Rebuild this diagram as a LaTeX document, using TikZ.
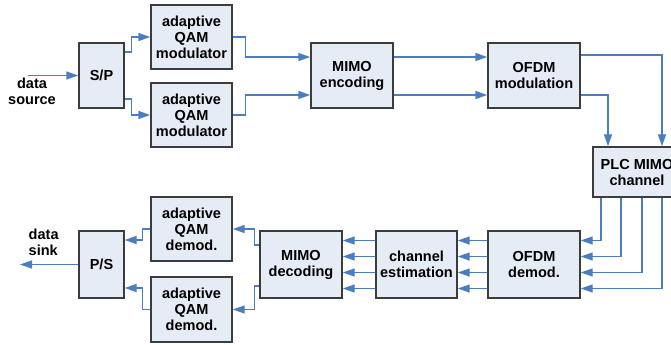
\documentclass[tikz,border=0pt]{standalone}
\usepackage{fontspec}
\setmainfont{Liberation Sans}
\usepackage{tikz}
\usetikzlibrary{arrows.meta,calc,positioning}
\definecolor{sigblue}{RGB}{74,126,193}
\definecolor{blkfill}{RGB}{230,236,246}
\definecolor{blkline}{RGB}{60,60,60}
\newdimen\unitpx \unitpx=0.75pt

\begin{document}
\begin{tikzpicture}[x=0.75pt,y=-0.75pt,>={Triangle[length=9pt,width=6pt]},
  blk/.style={draw=blkline,line width=1.1pt,fill=blkfill,align=center,inner sep=0pt,
    font=\fontsize{10.9}{12}\selectfont\bfseries},
  sig/.style={->,sigblue,line width=1.1pt},
  lbl/.style={align=center,font=\fontsize{10.9}{12}\selectfont\bfseries}]
\useasboundingbox (0,0) rectangle (671,345);
% transmitter
\node[blk,minimum width=45\unitpx,minimum height=65\unitpx] (sp) at (101.5,75.5) {S/P};
\node[blk,minimum width=81\unitpx,minimum height=64\unitpx] (modA) at (191.5,37) {adaptive\\QAM\\modulator};
\node[blk,minimum width=81\unitpx,minimum height=64\unitpx] (modB) at (191.5,115) {adaptive\\QAM\\modulator};
\node[blk,minimum width=82\unitpx,minimum height=65\unitpx] (menc) at (352,75.5) {MIMO\\encoding};
\node[blk,minimum width=92\unitpx,minimum height=65\unitpx] (ofdmm) at (534,75.5) {OFDM\\modulation};
\node[blk,minimum width=88\unitpx,minimum height=50\unitpx] (plc) at (637,172) {PLC MIMO\\channel};
% receiver
\node[blk,minimum width=92\unitpx,minimum height=67\unitpx] (ofdmd) at (534,264.5) {OFDM\\demod.};
\node[blk,minimum width=81\unitpx,minimum height=67\unitpx] (chest) at (416.5,264.5) {channel\\estimation};
\node[blk,minimum width=82\unitpx,minimum height=67\unitpx] (mdec) at (301,264.5) {MIMO\\decoding};
\node[blk,minimum width=81\unitpx,minimum height=64\unitpx] (demA) at (191.5,229) {adaptive\\QAM\\demod.};
\node[blk,minimum width=81\unitpx,minimum height=65\unitpx] (demB) at (191.5,309.5) {adaptive\\QAM\\demod.};
\node[blk,minimum width=45\unitpx,minimum height=67\unitpx] (ps) at (101.5,264.5) {P/S};
\node[lbl] (srctxt) at (32,91) {data\\source};
\node[lbl,align=left,anchor=west] (snktxt) at (24,242) {data\\sink};
\coordinate (src) at (28,75.5);
\coordinate (snk) at (20,264.5);

\draw[sig] (src) -- (sp.west);
\draw[sig] ($(sp.east)+(0,-23.5)$) -- ++(7,0) |- (modA.west);
\draw[sig] ($(sp.east)+(0,23.5)$) -- ++(7,0) |- (modB.west);
\draw[sig] (modA.east) -- ++(13,0) |- ($(menc.west)+(0,-18.5)$);
\draw[sig] (modB.east) -- ++(13,0) |- ($(menc.west)+(0,19.5)$);
\draw[sig] ($(menc.east)+(0,-18.5)$) -- ($(ofdmm.west)+(0,-18.5)$);
\draw[sig] ($(menc.east)+(0,19.5)$) -- ($(ofdmm.west)+(0,19.5)$);
\draw[sig] ($(ofdmm.east)+(0,-20.5)$) -| ($(plc.north)+(25,0)$);
\draw[sig] ($(ofdmm.east)+(0,19.5)$) -| ($(plc.north)+(-29,0)$);
\foreach \dx/\dy in {-36/-24,-16/-8,5/8,25/24}{
  \draw[sig] ($(plc.south)+(\dx,0)$) |- ($(ofdmd.east)+(0,\dy)$);
  \draw[sig] ($(ofdmd.west)+(0,\dy)$) -- ($(chest.east)+(0,\dy)$);
  \draw[sig] ($(chest.west)+(0,\dy)$) -- ($(mdec.east)+(0,\dy)$);
}
\draw[sig] ($(mdec.west)+(0,-19.5)$) -- ++(-5,0) |- (demA.east);
\draw[sig] ($(mdec.west)+(0,21.5)$) -- ++(-5,0) |- (demB.east);
\draw[sig] (demA.west) -- ++(-8,0) |- ($(ps.east)+(0,-24.5)$);
\draw[sig] (demB.west) -- ++(-8,0) |- ($(ps.east)+(0,23.5)$);
\draw[sig] (ps.west) -- (snk);
\end{tikzpicture}
\end{document}
